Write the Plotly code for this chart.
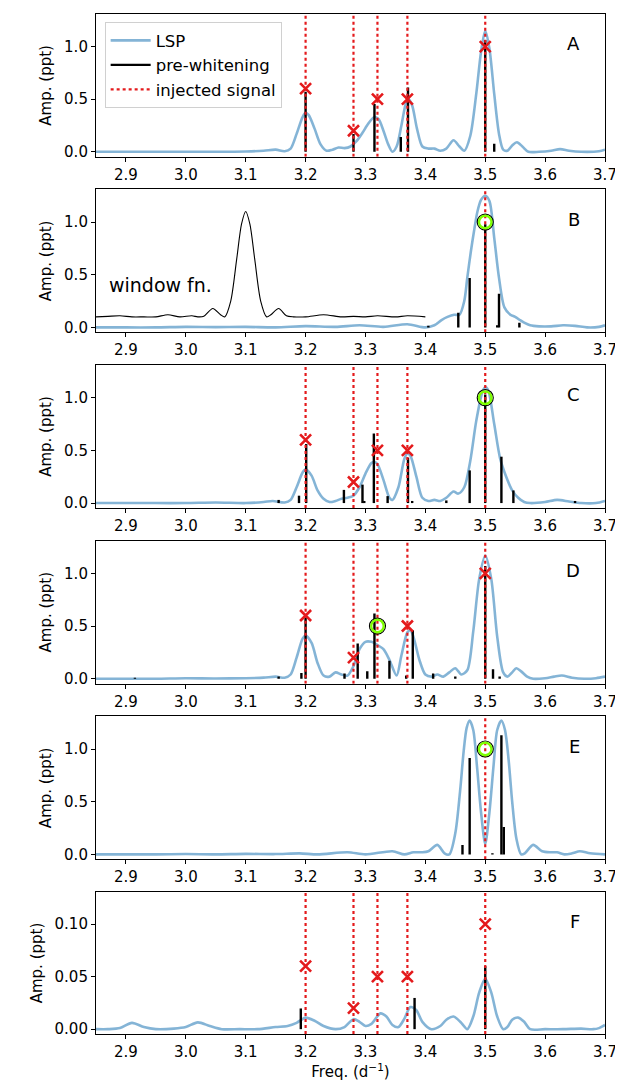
import plotly.graph_objects as go
from plotly.subplots import make_subplots

panels = ["A", "B", "C", "D", "E", "F"]
xticks = [2.9, 3.0, 3.1, 3.2, 3.3, 3.4, 3.5, 3.6, 3.7]

inj_freq = [3.2, 3.28, 3.32, 3.37, 3.5]
inj_amp = [0.6, 0.2, 0.5, 0.5, 1.0]
inj_amp_F = [0.06, 0.02, 0.05, 0.05, 0.1]

# which injected signals get a dotted line / red cross / green circle per panel
dotted_idx = {"A": [0, 1, 2, 3, 4], "B": [4], "C": [0, 1, 2, 3, 4],
              "D": [0, 1, 2, 3, 4], "E": [4], "F": [0, 1, 2, 3, 4]}
cross_idx = {"A": [0, 1, 2, 3, 4], "B": [], "C": [0, 1, 2, 3],
             "D": [0, 1, 3, 4], "E": [], "F": [0, 1, 2, 3, 4]}
circle_idx = {"A": [], "B": [4], "C": [4], "D": [2], "E": [4], "F": []}

# ---- LSP curves ----
lspA_f = [2.85, 2.90, 2.95, 3.00, 3.05, 3.10, 3.13, 3.15, 3.165, 3.175, 3.185, 3.195, 3.20, 3.205, 3.215, 3.225,
          3.235, 3.245, 3.255, 3.265, 3.275, 3.285, 3.295, 3.305, 3.315, 3.322, 3.33, 3.338, 3.345, 3.352, 3.36,
          3.368, 3.372, 3.378, 3.386, 3.395, 3.405, 3.415, 3.425, 3.435, 3.447, 3.457, 3.465, 3.475, 3.485, 3.493,
          3.50, 3.507, 3.515, 3.523, 3.53, 3.537, 3.545, 3.553, 3.562, 3.572, 3.59, 3.61, 3.625, 3.64, 3.66, 3.69, 3.70]
lspA_a = [0.0, 0.0, 0.0, 0.0, 0.0, 0.003, 0.01, 0.02, 0.005, 0.03, 0.17, 0.33, 0.37, 0.35, 0.22, 0.07,
          0.01, 0.02, 0.04, 0.035, 0.05, 0.10, 0.18, 0.27, 0.33, 0.31, 0.20, 0.07, 0.0, 0.05, 0.25,
          0.47, 0.50, 0.44, 0.22, 0.05, 0.03, 0.03, 0.01, 0.03, 0.11, 0.05, 0.01, 0.15, 0.55, 0.95,
          1.15, 0.98, 0.55, 0.17, 0.02, 0.01, 0.06, 0.09, 0.05, 0.0, 0.0, 0.01, 0.025, 0.01, 0.0, 0.005, 0.02]

lspB_f = [2.85, 2.90, 2.95, 3.00, 3.05, 3.10, 3.15, 3.20, 3.25, 3.29, 3.33, 3.37, 3.40, 3.415, 3.427, 3.437,
          3.448, 3.457, 3.465, 3.470, 3.476, 3.482, 3.487, 3.493, 3.50, 3.507, 3.515, 3.523, 3.532, 3.542,
          3.55, 3.558, 3.565, 3.575, 3.59, 3.61, 3.63, 3.65, 3.67, 3.69, 3.70]
lspB_a = [0.0, 0.0, 0.0, 0.005, 0.003, 0.005, 0.0, 0.012, 0.005, 0.02, 0.005, 0.03, 0.0, 0.02, 0.07, 0.10,
          0.12, 0.12, 0.25, 0.47, 0.72, 0.94, 1.10, 1.21, 1.25, 1.20, 0.85, 0.47, 0.19, 0.12,
          0.10, 0.07, 0.045, 0.02, 0.01, 0.01, 0.02, 0.015, 0.0, 0.005, 0.02]

wf_f = [2.85, 2.87, 2.89, 2.91, 2.93, 2.95, 2.97, 2.99, 3.01, 3.02, 3.03, 3.045, 3.058, 3.065, 3.075, 3.085,
        3.093, 3.10, 3.107, 3.115, 3.125, 3.135, 3.142, 3.155, 3.168, 3.18, 3.20, 3.23, 3.26, 3.28, 3.30,
        3.32, 3.35, 3.37, 3.40]
wf_a = [0.10, 0.105, 0.11, 0.10, 0.10, 0.10, 0.12, 0.10, 0.11, 0.10, 0.105, 0.18, 0.12, 0.10, 0.25, 0.65,
        0.98, 1.10, 0.98, 0.65, 0.25, 0.10, 0.12, 0.18, 0.11, 0.10, 0.10, 0.12, 0.10, 0.105, 0.10,
        0.11, 0.10, 0.11, 0.10]

lspC_f = [2.85, 2.90, 2.95, 3.00, 3.05, 3.10, 3.13, 3.145, 3.165, 3.175, 3.185, 3.195, 3.20, 3.21, 3.22, 3.23,
          3.24, 3.25, 3.26, 3.27, 3.28, 3.29, 3.30, 3.31, 3.315, 3.32, 3.33, 3.34, 3.345, 3.355, 3.365, 3.37,
          3.375, 3.385, 3.395, 3.405, 3.415, 3.425, 3.435, 3.447, 3.455, 3.465, 3.475, 3.485, 3.495, 3.50,
          3.505, 3.515, 3.525, 3.535, 3.545, 3.555, 3.565, 3.575, 3.60, 3.62, 3.64, 3.66, 3.685, 3.70]
lspC_a = [0.0, 0.0, 0.0, 0.0, 0.005, 0.0, 0.01, 0.02, 0.005, 0.03, 0.15, 0.29, 0.32, 0.26, 0.12, 0.04,
          0.01, 0.02, 0.04, 0.05, 0.07, 0.15, 0.28, 0.38, 0.39, 0.37, 0.22, 0.05, 0.03, 0.15, 0.42, 0.47,
          0.45, 0.25, 0.05, 0.02, 0.03, 0.02, 0.05, 0.11, 0.09, 0.15, 0.40, 0.78, 1.05, 1.10,
          1.07, 0.75, 0.42, 0.25, 0.12, 0.05, 0.01, 0.0, 0.01, 0.03, 0.015, 0.0, 0.0, 0.02]

lspD_f = [2.85, 2.90, 2.95, 3.00, 3.05, 3.10, 3.13, 3.15, 3.165, 3.175, 3.185, 3.195, 3.20, 3.21, 3.22, 3.23,
          3.24, 3.25, 3.26, 3.27, 3.28, 3.29, 3.30, 3.31, 3.32, 3.33, 3.34, 3.352, 3.36, 3.37, 3.375, 3.38,
          3.39, 3.40, 3.41, 3.42, 3.43, 3.44, 3.45, 3.46, 3.47, 3.48, 3.49, 3.50, 3.51, 3.52, 3.53, 3.537,
          3.545, 3.552, 3.56, 3.57, 3.58, 3.60, 3.615, 3.628, 3.645, 3.665, 3.685, 3.70]
lspD_a = [0.0, 0.0, 0.0, 0.005, 0.002, 0.005, 0.01, 0.02, 0.01, 0.04, 0.20, 0.38, 0.41, 0.34, 0.15, 0.03,
          0.02, 0.06, 0.04, 0.03, 0.12, 0.28, 0.35, 0.35, 0.32, 0.28, 0.18, 0.03, 0.22, 0.44, 0.46, 0.40,
          0.18, 0.04, 0.02, 0.04, 0.02, 0.06, 0.10, 0.04, 0.08, 0.45, 0.95, 1.17, 0.95, 0.40, 0.06, 0.02,
          0.06, 0.10, 0.07, 0.02, 0.0, 0.005, 0.02, 0.03, 0.01, 0.0, 0.005, 0.02]

lspE_f = [2.85, 2.90, 2.95, 3.00, 3.05, 3.10, 3.15, 3.19, 3.22, 3.27, 3.30, 3.345, 3.365, 3.38, 3.395, 3.405,
          3.42, 3.432, 3.44, 3.45, 3.458, 3.464, 3.469, 3.474, 3.48, 3.486, 3.493, 3.50, 3.507, 3.514, 3.52,
          3.527, 3.533, 3.539, 3.545, 3.552, 3.56, 3.566, 3.58, 3.595, 3.61, 3.62, 3.632, 3.645, 3.658, 3.675, 3.70]
lspE_a = [0.0, 0.0, 0.0, 0.003, 0.0, 0.005, 0.003, 0.01, 0.0, 0.02, 0.0, 0.03, 0.0, 0.02, 0.02, 0.03,
          0.09, 0.01, 0.0, 0.2, 0.6, 0.98, 1.2, 1.27, 1.18, 0.85, 0.4, 0.1, 0.4, 0.85, 1.18,
          1.27, 1.18, 0.9, 0.5, 0.15, 0.0, 0.01, 0.09, 0.03, 0.02, 0.02, 0.0, 0.01, 0.03, 0.01, 0.0]

lspF_f = [2.85, 2.87, 2.89, 2.91, 2.93, 2.95, 2.98, 3.00, 3.02, 3.04, 3.06, 3.09, 3.12, 3.15, 3.17, 3.185,
          3.20, 3.215, 3.23, 3.25, 3.265, 3.28, 3.29, 3.30, 3.31, 3.325, 3.335, 3.345, 3.355, 3.365, 3.375,
          3.385, 3.395, 3.41, 3.425, 3.435, 3.447, 3.46, 3.47, 3.48, 3.49, 3.50, 3.51, 3.52, 3.53, 3.537,
          3.545, 3.555, 3.565, 3.575, 3.60, 3.63, 3.66, 3.68, 3.69, 3.70]
lspF_a = [0.0, 0.0, 0.001, 0.006, 0.002, 0.0, 0.0005, 0.002, 0.0065, 0.003, 0.0, 0.0, 0.0, 0.002, 0.003, 0.006,
          0.011, 0.008, 0.003, 0.0, 0.002, 0.0095, 0.007, 0.003, 0.005, 0.015, 0.012, 0.004, 0.002, 0.01, 0.021,
          0.018, 0.007, 0.0, 0.003, 0.009, 0.012, 0.006, 0.0, 0.012, 0.035, 0.048, 0.035, 0.012, 0.0, 0.002,
          0.009, 0.011, 0.007, 0.0, 0.0, 0.0, 0.0005, 0.0, 0.001, 0.004]

# ---- pre-whitening frequencies / amplitudes ----
pwA_f = [3.20, 3.28, 3.315, 3.359, 3.371, 3.50, 3.515]
pwA_a = [0.57, 0.17, 0.455, 0.14, 0.61, 1.06, 0.075]
pwB_f = [3.405, 3.455, 3.474, 3.50, 3.520, 3.523, 3.557]
pwB_a = [0.015, 0.14, 0.47, 0.98, 0.02, 0.32, 0.045]
pwC_f = [3.155, 3.189, 3.201, 3.264, 3.295, 3.298, 3.314, 3.337, 3.371, 3.378, 3.435, 3.474, 3.50, 3.527, 3.547, 3.65]
pwC_a = [0.03, 0.07, 0.56, 0.125, 0.175, 0.02, 0.66, 0.066, 0.43, 0.02, 0.025, 0.31, 1.03, 0.44, 0.12, 0.02]
pwD_f = [2.915, 3.155, 3.193, 3.20, 3.265, 3.287, 3.303, 3.315, 3.34, 3.368, 3.379, 3.413, 3.45, 3.50, 3.513, 3.524]
pwD_a = [0.01, 0.02, 0.055, 0.58, 0.05, 0.335, 0.07, 0.62, 0.17, 0.03, 0.46, 0.05, 0.02, 1.07, 0.09, 0.02]
pwE_f = [3.462, 3.474, 3.512, 3.527, 3.531]
pwE_a = [0.09, 0.915, 0.01, 1.13, 0.26]
pwF_f = [3.192, 3.382, 3.50]
pwF_a = [0.0197, 0.0297, 0.06]

lsp = {"A": (lspA_f, lspA_a), "B": (lspB_f, lspB_a), "C": (lspC_f, lspC_a),
       "D": (lspD_f, lspD_a), "E": (lspE_f, lspE_a), "F": (lspF_f, lspF_a)}
pw = {"A": (pwA_f, pwA_a), "B": (pwB_f, pwB_a), "C": (pwC_f, pwC_a),
      "D": (pwD_f, pwD_a), "E": (pwE_f, pwE_a), "F": (pwF_f, pwF_a)}

yr_main = [-0.047, 1.31]
yr_F = [-0.0046, 0.1305]

LSP_COL = "rgba(31,119,180,0.55)"
RED = "#e41a1c"
FONT = "DejaVu Sans"

fig = make_subplots(rows=6, cols=1)

for i, p in enumerate(panels):
    row = i + 1
    yr = yr_F if p == "F" else yr_main
    amps = inj_amp_F if p == "F" else inj_amp
    first = (i == 0)
    # LSP
    f, a = lsp[p]
    fig.add_trace(go.Scatter(x=f, y=a, mode="lines", line=dict(color=LSP_COL, width=2.6, shape="spline", smoothing=0.8),
                             name="LSP", showlegend=first, legendrank=1, hoverinfo="skip"), row=row, col=1)
    if p == "B":
        fig.add_trace(go.Scatter(x=wf_f, y=wf_a, mode="lines", line=dict(color="black", width=1.1, shape="spline", smoothing=0.8),
                                 showlegend=False, hoverinfo="skip"), row=row, col=1)
    # pre-whitening bars
    bf, ba = pw[p]
    bx, by = [], []
    for fr, am in zip(bf, ba):
        bx += [fr, fr, None]
        by += [0, am, None]
    fig.add_trace(go.Scatter(x=bx, y=by, mode="lines", line=dict(color="black", width=2.4),
                             name="pre-whitening", showlegend=first, legendrank=2, hoverinfo="skip"), row=row, col=1)
    # injected signal dotted lines
    dx, dy = [], []
    for k in dotted_idx[p]:
        dx += [inj_freq[k], inj_freq[k], None]
        dy += [yr[0], yr[1], None]
    fig.add_trace(go.Scatter(x=dx, y=dy, mode="lines", line=dict(color=RED, width=2.2, dash="dot"),
                             name="injected signal", showlegend=first, legendrank=3, hoverinfo="skip"), row=row, col=1)
    # red crosses
    if cross_idx[p]:
        fig.add_trace(go.Scatter(x=[inj_freq[k] for k in cross_idx[p]], y=[amps[k] for k in cross_idx[p]],
                                 mode="markers", marker=dict(symbol="x-thin", size=11, line=dict(color=RED, width=2.6)),
                                 showlegend=False, hoverinfo="skip"), row=row, col=1)
    # green circles
    if circle_idx[p]:
        cx = [inj_freq[k] for k in circle_idx[p]]
        cy = [amps[k] for k in circle_idx[p]]
        fig.add_trace(go.Scatter(x=cx, y=cy, mode="markers",
                                 marker=dict(symbol="circle-open", size=16, color="black", line=dict(width=1.2)),
                                 showlegend=False, hoverinfo="skip"), row=row, col=1)
        fig.add_trace(go.Scatter(x=cx, y=cy, mode="markers",
                                 marker=dict(symbol="circle-open", size=12.5, color="#7fff00", line=dict(width=2.4)),
                                 showlegend=False, hoverinfo="skip"), row=row, col=1)

# geometry
W, H = 623, 1081
ml, mr, mt, mb = 88, 26, 6, 55
ph = H - mt - mb
pitch, hgt, top0 = 175.66, 143.0, 5.7

for i, p in enumerate(panels):
    top_px = top0 + pitch * i - mt
    d_top = min(1.0, 1 - top_px / ph)
    d_bot = max(0.0, 1 - (top_px + hgt) / ph)
    yr = yr_F if p == "F" else yr_main
    if p == "F":
        yt = [0.0, 0.05, 0.10]
        ytxt = ["0.00", "0.05", "0.10"]
    else:
        yt = [0.0, 0.5, 1.0]
        ytxt = ["0.0", "0.5", "1.0"]
    sfx = "" if i == 0 else str(i + 1)
    fig.layout["yaxis" + sfx].update(domain=[d_bot, d_top], range=yr, tickvals=yt, ticktext=ytxt,
                                     showline=True, mirror=True, linecolor="black", linewidth=1.1,
                                     ticks="outside", ticklen=4, tickwidth=1.1, tickcolor="black",
                                     showgrid=False, zeroline=False, automargin=False,
                                     title=dict(text="Amp. (ppt)", font=dict(size=15, family=FONT, color="black"), standoff=8),
                                     tickfont=dict(size=15, family=FONT, color="black"))
    fig.layout["xaxis" + sfx].update(range=[2.85, 3.7], tickvals=xticks, ticktext=["%.1f" % v for v in xticks],
                                     showline=True, mirror=True, linecolor="black", linewidth=1.1,
                                     ticks="outside", ticklen=4, tickwidth=1.1, tickcolor="black",
                                     showgrid=False, zeroline=False, automargin=False,
                                     tickfont=dict(size=15, family=FONT, color="black"))
    fig.add_annotation(text=p, xref="x" + sfx + " domain", yref="y" + sfx + " domain", x=0.955, y=0.88,
                       showarrow=False, font=dict(size=18, family=FONT, color="black"))

fig.layout["xaxis6"].update(title=dict(text="Freq. (d<sup>\u22121</sup>)", font=dict(size=15, family=FONT, color="black"), standoff=6))

fig.add_annotation(text="window fn.", xref="x2", yref="y2", x=2.869, y=0.40, xanchor="left", yanchor="middle",
                   showarrow=False, font=dict(size=19, family=FONT, color="black"))

fig.update_layout(
    width=W, height=H, margin=dict(l=ml, r=mr, t=mt, b=mb, autoexpand=False),
    paper_bgcolor="white", plot_bgcolor="white",
    font=dict(family=FONT, color="black"),
    legend=dict(x=0.017, y=0.992, xanchor="left", yanchor="top", bgcolor="rgba(255,255,255,0.85)",
                bordercolor="#d0d0d0", borderwidth=1, font=dict(size=16.5, family=FONT, color="black"),
                itemwidth=40, tracegroupgap=0),
)

fig.write_html("out.html")
